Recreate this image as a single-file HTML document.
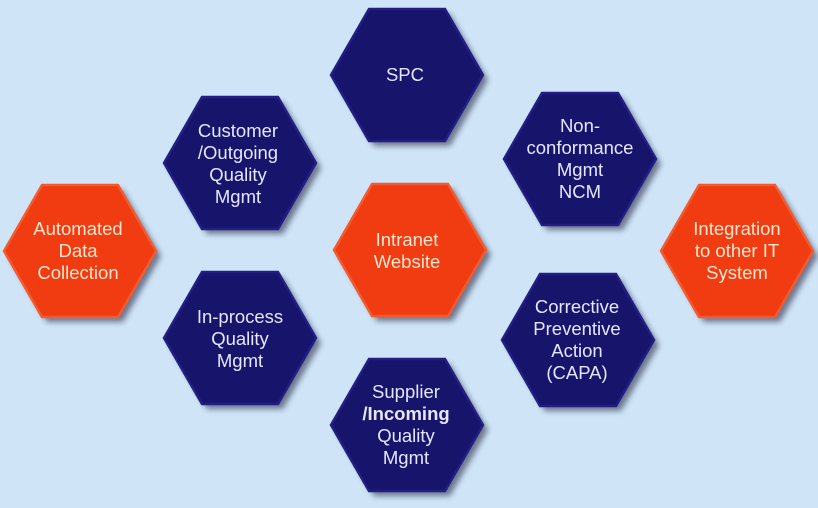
<!DOCTYPE html>
<html><head><meta charset="utf-8"><style>
html,body{margin:0;padding:0;background:#cfe5f7;}
svg{display:block}
text{font-family:"Liberation Sans",sans-serif;font-size:18.5px;text-anchor:middle}
.n text{fill:#e6e6ff}
.o text{fill:#ffe6d0}
</style></head><body>
<svg width="818" height="508" viewBox="0 0 818 508">
<defs>
<polygon id="h" points="-76,0 -38,-66 38,-66 76,0 38,66 -38,66"/>
<filter id="sh" x="-20%" y="-20%" width="140%" height="140%"><feGaussianBlur stdDeviation="3"/></filter>
</defs>
<g fill="#1a1a3a" opacity="0.55" filter="url(#sh)">
<use href="#h" x="412" y="80"/><use href="#h" x="245" y="168"/><use href="#h" x="585" y="164"/>
<use href="#h" x="85" y="256"/><use href="#h" x="415" y="255"/><use href="#h" x="742" y="256"/>
<use href="#h" x="245" y="343"/><use href="#h" x="583" y="345"/><use href="#h" x="412" y="430"/>
</g>
<g fill="#17146c" stroke="#221f84" stroke-width="2.5">
<use href="#h" x="407" y="75"/><use href="#h" x="240" y="163"/><use href="#h" x="580" y="159"/>
<use href="#h" x="240" y="338"/><use href="#h" x="578" y="340"/><use href="#h" x="407" y="425"/>
</g>
<g fill="#f03c10" stroke="#f25a30" stroke-width="2.5">
<use href="#h" x="80" y="251"/><use href="#h" x="410" y="250"/><use href="#h" x="737" y="251"/>
</g>
<g class="n">
<text x="405" y="81">SPC</text>
<text x="238" y="137">Customer</text><text x="238" y="159">/Outgoing</text><text x="238" y="181">Quality</text><text x="238" y="203">Mgmt</text>
<text x="580" y="132">Non-</text><text x="580" y="154">conformance</text><text x="580" y="176">Mgmt</text><text x="580" y="198">NCM</text>
<text x="240" y="323">In-process</text><text x="240" y="345">Quality</text><text x="240" y="367">Mgmt</text>
<text x="577" y="313">Corrective</text><text x="577" y="335">Preventive</text><text x="577" y="357">Action</text><text x="577" y="379">(CAPA)</text>
<text x="406" y="398">Supplier</text><text x="406" y="420" font-weight="bold">/Incoming</text><text x="406" y="442">Quality</text><text x="406" y="464">Mgmt</text>
</g>
<g class="o">
<text x="78" y="235">Automated</text><text x="78" y="257">Data</text><text x="78" y="279">Collection</text>
<text x="407" y="246">Intranet</text><text x="407" y="268">Website</text>
<text x="737" y="235">Integration</text><text x="737" y="257">to other IT</text><text x="737" y="279">System</text>
</g>
</svg>
</body></html>
